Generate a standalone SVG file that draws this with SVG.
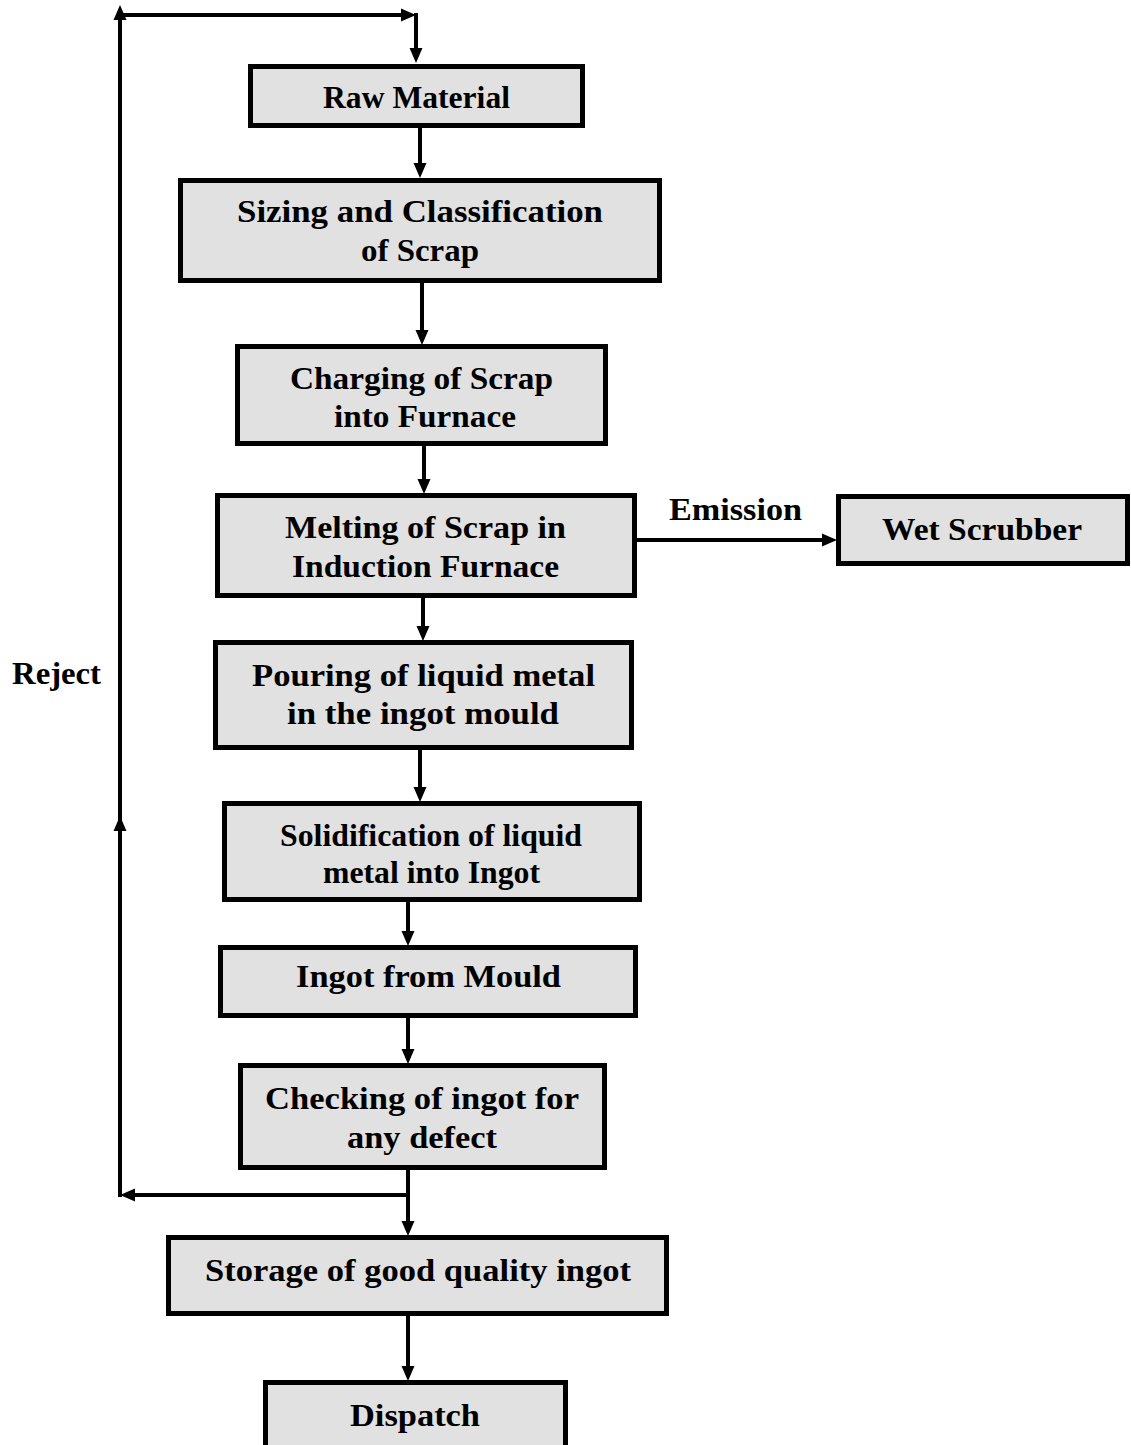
<svg xmlns="http://www.w3.org/2000/svg" width="1131" height="1445" viewBox="0 0 1131 1445">
<style>
.box{fill:#e1e1e1;stroke:#000;stroke-width:5}
.t{font-family:"Liberation Serif","Times New Roman",serif;font-weight:bold;font-size:32px;text-anchor:middle;fill:#000}
.tt{font-family:"Liberation Serif","Times New Roman",serif;font-weight:bold;font-size:31px;text-anchor:middle;fill:#000}
.c{fill:none;stroke:#000;stroke-width:4}
</style>
<defs>
<marker id="ah" markerUnits="userSpaceOnUse" markerWidth="16" markerHeight="14" viewBox="0 -7 16 14" refX="0" refY="0" orient="auto">
<path d="M0,-6.5 L15,0 L0,6.5 z" fill="#000"/>
</marker>
</defs>
<rect width="1131" height="1445" fill="#fff"/>
<g id="connectors">
<path class="c" d="M120,1197 V831" marker-end="url(#ah)"/>
<path class="c" d="M120,831 V20" marker-end="url(#ah)"/>
<path class="c" d="M118,15 H401" marker-end="url(#ah)"/>
<path class="c" d="M416,13 V48" marker-end="url(#ah)"/>
<path class="c" d="M420,128 V163" marker-end="url(#ah)"/>
<path class="c" d="M422,283 V330" marker-end="url(#ah)"/>
<path class="c" d="M424,446 V479" marker-end="url(#ah)"/>
<path class="c" d="M423,598 V626" marker-end="url(#ah)"/>
<path class="c" d="M420,750 V787" marker-end="url(#ah)"/>
<path class="c" d="M408,902 V931" marker-end="url(#ah)"/>
<path class="c" d="M408,1018 V1049" marker-end="url(#ah)"/>
<path class="c" d="M408,1170 V1221" marker-end="url(#ah)"/>
<path class="c" d="M410,1195 H135" marker-end="url(#ah)"/>
<path class="c" d="M408,1316 V1366" marker-end="url(#ah)"/>
<path class="c" d="M637,540 H822" marker-end="url(#ah)"/>
<text class="t" x="735.5" y="520" textLength="133" lengthAdjust="spacingAndGlyphs">Emission</text>
<text class="t" x="56.5" y="684" textLength="89" lengthAdjust="spacingAndGlyphs">Reject</text>
</g>
<g id="raw-material">
<rect class="box" x="250.5" y="66.5" width="332" height="59"/>
<text class="tt" x="416.5" y="108" textLength="187" lengthAdjust="spacingAndGlyphs">Raw Material</text>
</g>
<g id="sizing">
<rect class="box" x="180.5" y="180.5" width="479" height="100"/>
<text class="t" x="420" y="222" textLength="366" lengthAdjust="spacingAndGlyphs">Sizing and Classification</text>
<text class="t" x="420" y="261" textLength="118" lengthAdjust="spacingAndGlyphs">of Scrap</text>
</g>
<g id="charging">
<rect class="box" x="237.5" y="346.5" width="368" height="97"/>
<text class="t" x="421.5" y="389" textLength="263" lengthAdjust="spacingAndGlyphs">Charging of Scrap</text>
<text class="t" x="425" y="427" textLength="182" lengthAdjust="spacingAndGlyphs">into Furnace</text>
</g>
<g id="melting">
<rect class="box" x="217.5" y="495.5" width="417" height="100"/>
<text class="t" x="425.5" y="538" textLength="281" lengthAdjust="spacingAndGlyphs">Melting of Scrap in</text>
<text class="t" x="425.5" y="577" textLength="267" lengthAdjust="spacingAndGlyphs">Induction Furnace</text>
</g>
<g id="wet-scrubber">
<rect class="box" x="838.5" y="496.5" width="289" height="67"/>
<text class="t" x="982" y="540" textLength="200" lengthAdjust="spacingAndGlyphs">Wet Scrubber</text>
</g>
<g id="pouring">
<rect class="box" x="215.5" y="642.5" width="416" height="105"/>
<text class="t" x="423.5" y="686" textLength="343" lengthAdjust="spacingAndGlyphs">Pouring of liquid metal</text>
<text class="t" x="423" y="724" textLength="272" lengthAdjust="spacingAndGlyphs">in the ingot mould</text>
</g>
<g id="solidification">
<rect class="box" x="224.5" y="803.5" width="415" height="96"/>
<text class="tt" x="431" y="846" textLength="302" lengthAdjust="spacingAndGlyphs">Solidification of liquid</text>
<text class="tt" x="431.5" y="883" textLength="217" lengthAdjust="spacingAndGlyphs">metal into Ingot</text>
</g>
<g id="ingot-from-mould">
<rect class="box" x="220.5" y="947.5" width="415" height="68"/>
<text class="t" x="428.5" y="987" textLength="265" lengthAdjust="spacingAndGlyphs">Ingot from Mould</text>
</g>
<g id="checking">
<rect class="box" x="240.5" y="1065.5" width="364" height="102"/>
<text class="t" x="422" y="1109" textLength="314" lengthAdjust="spacingAndGlyphs">Checking of ingot for</text>
<text class="t" x="422" y="1148" textLength="150" lengthAdjust="spacingAndGlyphs">any defect</text>
</g>
<g id="storage">
<rect class="box" x="168.5" y="1237.5" width="498" height="76"/>
<text class="t" x="418" y="1281" textLength="426" lengthAdjust="spacingAndGlyphs">Storage of good quality ingot</text>
</g>
<g id="dispatch">
<rect class="box" x="265.5" y="1382.5" width="300" height="80"/>
<text class="t" x="415" y="1426" textLength="130" lengthAdjust="spacingAndGlyphs">Dispatch</text>
</g>
</svg>
